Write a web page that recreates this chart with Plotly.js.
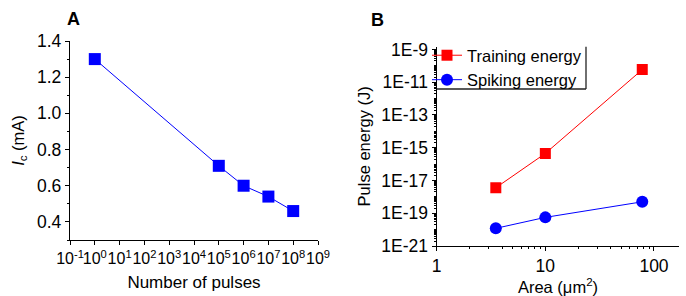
<!DOCTYPE html>
<html><head><meta charset="utf-8">
<script src="https://cdn.plot.ly/plotly-3.0.1.min.js"></script>
<style>html,body{margin:0;padding:0;background:#fff}#c{width:686px;height:296px}</style>
</head><body><div id="c"></div>
<script>
// Panel A: critical current vs number of pulses
const pulses = [1, 1e5, 1e6, 1e7, 1e8];
const icMA = [1.30, 0.71, 0.60, 0.54, 0.46];
const aTickVals = [1e-1, 1e0, 1e1, 1e2, 1e3, 1e4, 1e5, 1e6, 1e7, 1e8, 1e9];
const aTickText = ['10<sup>-1</sup>','10<sup>0</sup>','10<sup>1</sup>','10<sup>2</sup>','10<sup>3</sup>','10<sup>4</sup>','10<sup>5</sup>','10<sup>6</sup>','10<sup>7</sup>','10<sup>8</sup>','10<sup>9</sup>'];

// Panel B: pulse energy vs area
const areaUm2 = [3.5, 10, 78];
const trainingEnergy = [3.6e-18, 4.5e-16, 5.9e-11];
const spikingEnergy = [1.2e-20, 5.6e-20, 5.0e-19];
const bYTickVals = [1e-21, 1e-19, 1e-17, 1e-15, 1e-13, 1e-11, 1e-9];
const bYTickText = ['1E-21','1E-19','1E-17','1E-15','1E-13','1E-11','1E-9'];
const bXTickVals = [1, 10, 100];
const bXTickText = ['1','10','100'];

const FONT = 'Liberation Sans, Arial, sans-serif';
const AX = {showgrid:false, zeroline:false, showline:true, linecolor:'#000', linewidth:1.2,
  tickcolor:'#000', tickwidth:1, ticklen:4, automargin:false, tickangle:0,
  tickfont:{family:FONT, size:17.5, color:'#000'}};

const traces = [
  {x:pulses, y:icMA, xaxis:'x', yaxis:'y', mode:'lines+markers', showlegend:false,
   line:{color:'#0000ff', width:1}, marker:{symbol:'square', size:12, color:'#0000ff'}},
  {x:areaUm2, y:trainingEnergy, xaxis:'x3', yaxis:'y3', mode:'lines+markers', name:'Training energy',
   line:{color:'#ff0000', width:1}, marker:{symbol:'square', size:11, color:'#ff0000'}},
  {x:areaUm2, y:spikingEnergy, xaxis:'x3', yaxis:'y3', mode:'lines+markers', name:'Spiking energy',
   line:{color:'#0000ff', width:1}, marker:{symbol:'circle', size:12, color:'#0000ff'}}
];

const aXd = [70/686, 318/686], aYd = [1-240/296, 1-41/296];
const bXd = [436.7/686, 679.3/686], bYd = [1-246/296, 1-46.7/296];
const aXr = [-1, 9], aYr = [0.3, 1.4];
const bXr = [0, 2.233], bYr = [-21, -8.83];
const TF = {family:FONT, size:16.5, color:'#000'};

const layout = {
  width:686, height:296, margin:{l:0,r:0,t:0,b:0}, paper_bgcolor:'#fff', plot_bgcolor:'#fff',
  font:{family:FONT, color:'#000'},
  xaxis:Object.assign({}, AX, {domain:aXd, anchor:'y', type:'log', range:aXr, ticks:'outside',
    tickmode:'array', tickvals:aTickVals, ticktext:aTickText, tickfont:{family:FONT,size:16,color:'#000'},
    title:{text:'Number of pulses', font:{family:FONT, size:17, color:'#000'}, standoff:9}}),
  yaxis:Object.assign({}, AX, {domain:aYd, anchor:'x', range:aYr, ticks:'outside', dtick:0.2, tick0:0.4,
    tickformat:'.1f', minor:{dtick:0.1, ticklen:2, ticks:'outside', tickcolor:'#000'},
    title:{text:'<i>I</i><sub>c</sub> (mA)', font:TF, standoff:8}}),
  xaxis2:Object.assign({}, AX, {domain:aXd, anchor:'y', overlaying:'x', side:'top', type:'log', range:aXr,
    ticks:'inside', tickmode:'array', tickvals:aTickVals, showticklabels:false}),
  yaxis2:Object.assign({}, AX, {domain:aYd, anchor:'x', overlaying:'y', side:'right', range:aYr,
    ticks:'inside', dtick:0.2, tick0:0.4, showticklabels:false,
    minor:{dtick:0.1, ticklen:2, ticks:'inside', tickcolor:'#000'}}),
  xaxis3:Object.assign({}, AX, {domain:bXd, anchor:'y3', type:'log', range:bXr, ticks:'outside',
    tickmode:'array', tickvals:bXTickVals, ticktext:bXTickText,
    minor:{dtick:'D1', ticklen:2, ticks:'outside', tickcolor:'#000'},
    title:{text:'Area (\u03bcm<sup>2</sup>)', font:TF, standoff:10}}),
  yaxis3:Object.assign({}, AX, {domain:bYd, anchor:'x3', type:'log', range:bYr, ticks:'outside',
    tickmode:'array', tickvals:bYTickVals, ticktext:bYTickText,
    minor:{dtick:'D1', ticklen:2, ticks:'outside', tickcolor:'#000'},
    title:{text:'Pulse energy (J)', font:TF, standoff:6}}),
  xaxis4:Object.assign({}, AX, {domain:bXd, anchor:'y3', overlaying:'x3', side:'top', type:'log', range:bXr,
    ticks:'inside', tickmode:'array', tickvals:bXTickVals, showticklabels:false,
    minor:{dtick:'D1', ticklen:2, ticks:'inside', tickcolor:'#000'}}),
  yaxis4:Object.assign({}, AX, {domain:bYd, anchor:'x3', overlaying:'y3', side:'right', type:'log', range:bYr,
    ticks:'inside', tickmode:'array', tickvals:bYTickVals, showticklabels:false,
    minor:{dtick:'D1', ticklen:2, ticks:'inside', tickcolor:'#000'}}),
  shapes:[
    {type:'line', xref:'paper', yref:'paper', x0:586/686, x1:586/686, y0:1-89/296, y1:1-46.7/296,
     line:{color:'#222', width:1.3}, layer:'above'},
    {type:'line', xref:'paper', yref:'paper', x0:436.7/686, x1:586/686, y0:1-89/296, y1:1-89/296,
     line:{color:'#222', width:1.3}, layer:'above'}
  ],
  legend:{x:427/686, y:1-38/296, xanchor:'left', yanchor:'top', bgcolor:'rgba(0,0,0,0)',
    borderwidth:0, font:{family:FONT, size:16.5, color:'#000'},
    itemwidth:30, tracegroupgap:0},
  annotations:[
    {text:'<b>A</b>', x:73.5/686, y:1-18.5/296, xref:'paper', yref:'paper', showarrow:false,
     xanchor:'center', yanchor:'middle', font:{family:FONT, size:18, color:'#000'}},
    {text:'<b>B</b>', x:377.5/686, y:1-20/296, xref:'paper', yref:'paper', showarrow:false,
     xanchor:'center', yanchor:'middle', font:{family:FONT, size:18, color:'#000'}}
  ]
};

Plotly.newPlot('c', traces, layout, {staticPlot:true, displayModeBar:false});
</script></body></html>
